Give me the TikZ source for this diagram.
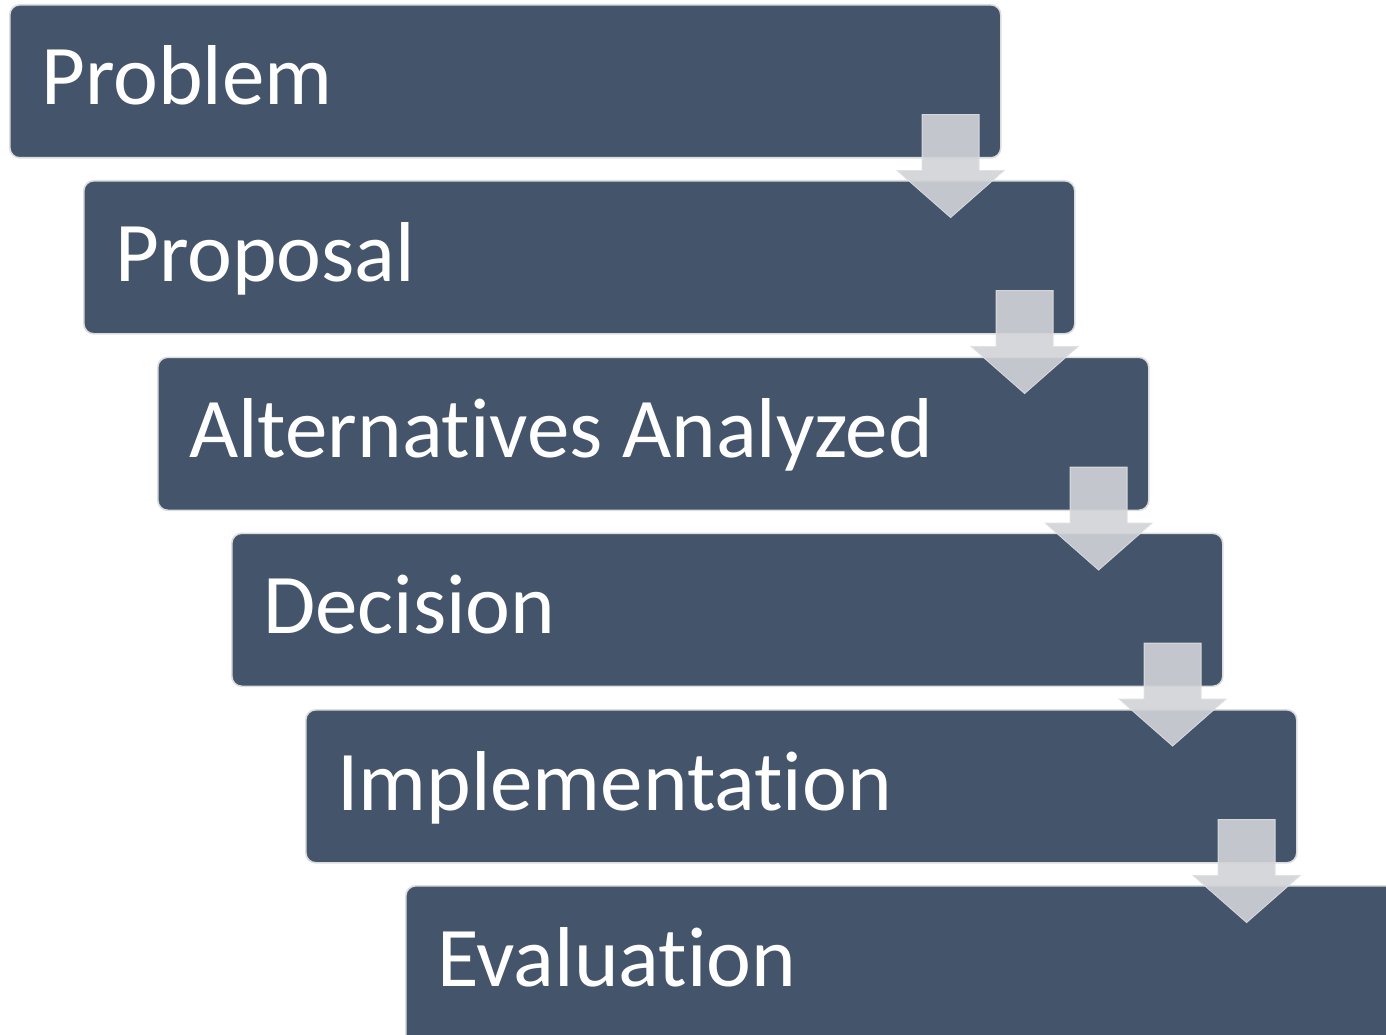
\documentclass[tikz,border=0pt]{standalone}
\usepackage{fontspec}
\setmainfont[Ligatures={NoCommon}]{Carlito}
\usetikzlibrary{calc}
\definecolor{boxfill}{HTML}{44546A}
\definecolor{boxline}{HTML}{DCDDDF}
\definecolor{arrfill}{RGB}{209,211,215}
\definecolor{arrline}{RGB}{222,224,227}
\begin{document}
\begin{tikzpicture}[x=1pt,y=-1pt,
  stepbox/.style={draw=boxline, line width=1.6pt, fill=boxfill, rounded corners=10pt,
    minimum width=991pt, minimum height=153pt, anchor=north west, inner sep=0pt},
  lbl/.style={text=white, font=\fontsize{85}{100}\selectfont, anchor=base west, inner sep=0pt},
  blockarrow/.style={fill=arrfill, fill opacity=0.9, draw=arrline, line width=0.8pt, draw opacity=0.9}]
\path[use as bounding box] (0,0) rectangle (1386,1035);
\clip (0,0) rectangle (1386,1035);
% boxes
\node[stepbox] (b1) at (9,4) {};
\node[stepbox] (b2) at (83,180) {};
\node[stepbox] (b3) at (157,356.5) {};
\node[stepbox] (b4) at (231,532.5) {};
\node[stepbox] (b5) at (305,709) {};
\node[stepbox, minimum width=1100pt, minimum height=220pt] (b6) at (405,885) {};
% labels
\node[lbl] (t1) at (41,105) {Problem};
\node[lbl] (t2) at (115,281) {Proposal};
\node[lbl] (t3) at (189,457.5) {Alternat\kern0pt ives Analyzed};
\node[lbl] (t4) at (263,633.5) {Decision};
\node[lbl] (t5) at (337,810) {Implementat\kern0pt ion};
\node[lbl] (t6) at (437,986) {Evaluat\kern0pt ion};
% arrows
\foreach \k in {1,...,5}{
  \coordinate (a\k) at ($(b\k.south east)+(-51,-44)$);
  \draw[blockarrow, shift={(a\k)}] (-28.5,0) -- (28.5,0) -- (28.5,56) -- (53.5,56)
     -- (0,103) -- (-53.5,56) -- (-28.5,56) -- cycle;
}
\end{tikzpicture}
\end{document}
